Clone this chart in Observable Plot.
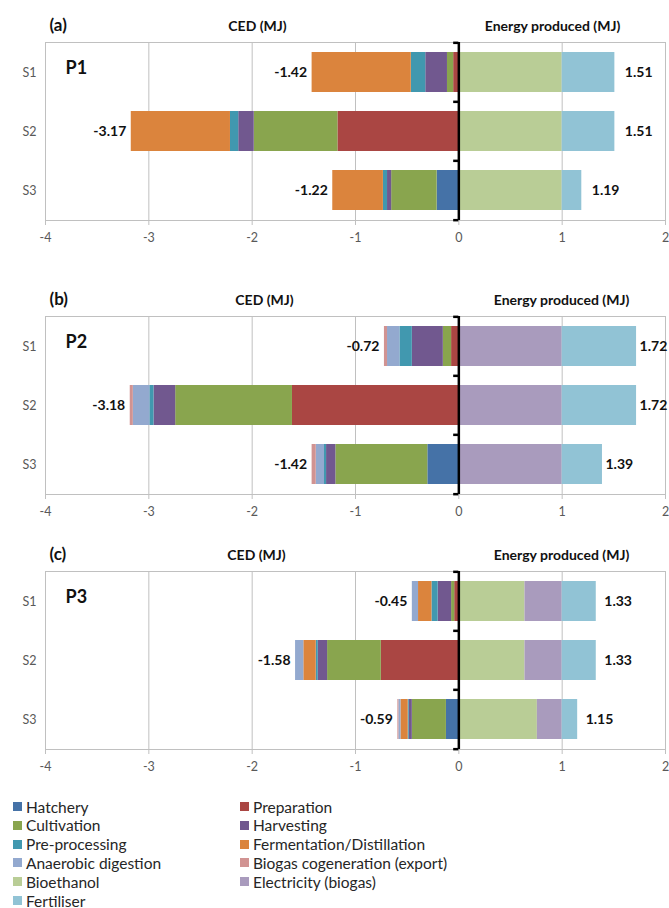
<!DOCTYPE html>
<html>
<head>
<meta charset="utf-8">
<script src="https://cdn.jsdelivr.net/npm/d3@7"></script>
<script src="https://cdn.jsdelivr.net/npm/@observablehq/plot@0.6"></script>
<style>
  html, body { margin: 0; padding: 0; background: #fff; }
  #root { position: relative; width: 669px; height: 908px; font-family: Lato, "Open Sans", sans-serif; overflow: hidden; }
  .panel { position: absolute; left: 0; }
  .legend { position: absolute; left: 0; top: 797px; width: 669px; font-size: 15.5px; color: #262626; }
  .li { position: absolute; display: flex; align-items: center; height: 19px; white-space: nowrap; }
  .sw { width: 9px; height: 9px; margin-right: 4px; display: inline-block; }
</style>
</head>
<body>
<div id="root"></div>
<script>
// ---- categories ----
const scenarios = ["S1", "S2", "S3"];
const components = [
  "Hatchery", "Preparation", "Cultivation", "Harvesting", "Pre-processing",
  "Fermentation/Distillation", "Anaerobic digestion", "Biogas cogeneration (export)",
  "Bioethanol", "Electricity (biogas)", "Fertiliser"
];
const colors = [
  "#4572A7", "#AA4643", "#89A54E", "#71588F", "#4198AF",
  "#DB843D", "#93A9CF", "#D19392", "#B9CD96", "#A99BBD", "#91C3D5"
];
const xTicks = [-4, -3, -2, -1, 0, 1, 2];

// ---- values: rows follow `components`, columns S1, S2, S3 (MJ) ----
const P1 = [
  [0, 0, -0.21],        // Hatchery
  [-0.05, -1.17, 0],    // Preparation
  [-0.06, -0.81, -0.44],// Cultivation
  [-0.21, -0.15, -0.04],// Harvesting
  [-0.14, -0.08, -0.04],// Pre-processing
  [-0.96, -0.96, -0.49],// Fermentation/Distillation
  [0, 0, 0],            // Anaerobic digestion
  [0, 0, 0],            // Biogas cogeneration
  [1.00, 1.00, 1.00],   // Bioethanol
  [0, 0, 0],            // Electricity
  [0.51, 0.51, 0.19]    // Fertiliser
];
const P2 = [
  [0, 0, -0.30],
  [-0.07, -1.61, 0],
  [-0.08, -1.13, -0.89],
  [-0.30, -0.21, -0.09],
  [-0.12, -0.04, -0.02],
  [0, 0, 0],
  [-0.12, -0.16, -0.08],
  [-0.03, -0.03, -0.04],
  [0, 0, 0],
  [1.00, 1.00, 1.00],
  [0.72, 0.72, 0.39]
];
const P3 = [
  [0, 0, -0.12],
  [-0.04, -0.75, 0],
  [-0.03, -0.52, -0.33],
  [-0.13, -0.09, -0.03],
  [-0.06, -0.02, -0.01],
  [-0.13, -0.12, -0.07],
  [-0.06, -0.08, -0.02],
  [0, 0, -0.01],
  [0.64, 0.64, 0.76],
  [0.36, 0.36, 0.24],
  [0.33, 0.33, 0.15]
];
const P1_ced = [-1.42, -3.17, -1.22];
const P1_energy = [1.51, 1.51, 1.19];
const P2_ced = [-0.72, -3.18, -1.42];
const P2_energy = [1.72, 1.72, 1.39];
const P3_ced = [-0.45, -1.58, -0.59];
const P3_energy = [1.33, 1.33, 1.15];

const panels = [
  {letter: "(a)", name: "P1", matrix: P1, ced: P1_ced, energy: P1_energy, top: 0,   cedX: 257, enX: 552, labDx: 10},
  {letter: "(b)", name: "P2", matrix: P2, ced: P2_ced, energy: P2_energy, top: 274, cedX: 264, enX: 561, labDx: 3},
  {letter: "(c)", name: "P3", matrix: P3, ced: P3_ced, energy: P3_energy, top: 529, cedX: 256, enX: 561, labDx: 8}
];

const W = 669, mL = 45, mR = 4, mT = 42, innerH = 178, mB = 30;
const step = innerH / 3;
const font = "Lato, 'Open Sans', sans-serif";
const root = document.getElementById("root");

for (const p of panels) {
  const data = [];
  components.forEach((c, i) => scenarios.forEach((s, j) => {
    const v = p.matrix[i][j];
    if (v !== 0) data.push({component: c, scenario: s, value: v});
  }));
  const totals = scenarios.map((s, j) => ({scenario: s, ced: p.ced[j], energy: p.energy[j]}));

  const chart = Plot.plot({
    width: W, height: mT + innerH + mB,
    marginLeft: mL, marginRight: mR, marginTop: mT, marginBottom: mB,
    style: {fontFamily: font, background: "white", overflow: "visible"},
    x: {domain: [-4, 2]},
    y: {domain: scenarios, paddingInner: 0.33, paddingOuter: 0.165},
    color: {domain: components, range: colors},
    marks: [
      Plot.gridX(xTicks, {stroke: "#c0c0c0", strokeOpacity: 1}),
      Plot.frame({stroke: "#c0c0c0"}),
      Plot.axisX(xTicks, {tickSize: 5, stroke: "#c0c0c0", color: "#595959", fontSize: 12.5,
        tickPadding: 8, label: null, tickFormat: d => String(d)}),
      Plot.axisY({tickSize: 0, tickPadding: 9, fontSize: 12.5, color: "#595959", label: null}),
      Plot.barX(data, {x: "value", y: "scenario", fill: "component", order: components}),
      Plot.ruleX([0], {stroke: "black", strokeWidth: 2.5}),
      Plot.ruleY(scenarios, {y: d => d, x1: 0, x2: -0.05, dy: -step / 2, stroke: "black", strokeWidth: 2.5}),
      Plot.ruleY(["S3"], {y: d => d, x1: 0, x2: -0.05, dy: step / 2, stroke: "black", strokeWidth: 2.5}),
      Plot.text(totals, {x: "ced", y: "scenario", text: d => d.ced.toFixed(2), textAnchor: "end",
        dx: -5, fontWeight: "bold", fontSize: 14, fill: "#111"}),
      Plot.text(totals, {x: "energy", y: "scenario", text: d => d.energy.toFixed(2), textAnchor: "start",
        dx: p.labDx, fontWeight: "bold", fontSize: 14, fill: "#111"}),
      Plot.text([p.name], {y: () => "S1", frameAnchor: "left", dx: 20, dy: -4, textAnchor: "start",
        fontWeight: "bold", fontSize: 18, fill: "#111"}),
      Plot.text([p.letter], {frameAnchor: "top-left", dx: 4, dy: -24, textAnchor: "start",
        fontWeight: "bold", fontSize: 17, fill: "#111"}),
      Plot.text(["CED (MJ)"], {frameAnchor: "top-left", dx: p.cedX - mL, dy: -21, textAnchor: "middle",
        fontWeight: "bold", fontSize: 14, fill: "#111"}),
      Plot.text(["Energy produced (MJ)"], {frameAnchor: "top-left", dx: p.enX - mL, dy: -21, textAnchor: "middle",
        fontWeight: "bold", fontSize: 14, fill: "#111"})
    ]
  });
  const div = document.createElement("div");
  div.className = "panel";
  div.style.top = p.top + "px";
  div.appendChild(chart);
  root.appendChild(div);
}

// legend: two columns, filled row by row
const legend = document.createElement("div");
legend.className = "legend";
components.forEach((c, i) => {
  const item = document.createElement("div");
  item.className = "li";
  item.style.left = (i % 2 === 0 ? 13 : 240) + "px";
  item.style.top = (Math.floor(i / 2) * 18.8) + "px";
  const sw = document.createElement("span");
  sw.className = "sw";
  sw.style.background = colors[i];
  item.appendChild(sw);
  item.appendChild(document.createTextNode(c));
  legend.appendChild(item);
});
root.appendChild(legend);
</script>
</body>
</html>
